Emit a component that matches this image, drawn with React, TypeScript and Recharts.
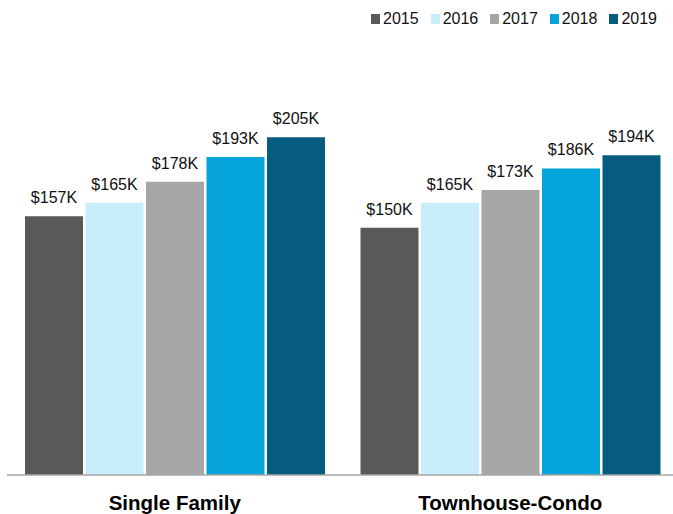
import React from 'react';
import { BarChart, Bar, XAxis, YAxis, Legend, LabelList } from 'recharts';

// Median sold price by property type (thousands of dollars)
const categories = ['Single Family', 'Townhouse-Condo'];
const years = ['2015', '2016', '2017', '2018', '2019'];
const values2015 = [157, 150];
const values2016 = [165, 165];
const values2017 = [178, 173];
const values2018 = [193, 186];
const values2019 = [205, 194];

const seriesValues = [values2015, values2016, values2017, values2018, values2019];
const colors = ['#595959', '#c8eefb', '#a6a6a6', '#05a5dc', '#065c7f'];

const data = categories.map((name, i) => {
  const row: { [key: string]: string | number } = { name };
  years.forEach((y, j) => {
    row[y] = seriesValues[j][i];
  });
  return row;
});

const FONT = '"Liberation Sans", Arial, Helvetica, sans-serif';

const CategoryTick = ({ x, y, payload }: any) => (
  <text
    x={x}
    y={y}
    dy={27}
    textAnchor="middle"
    fontFamily={FONT}
    fontWeight="bold"
    fontSize={20.5}
    fill="#000"
  >
    {payload.value}
  </text>
);

const LegendContent = () => (
  <div style={{ display: 'flex', justifyContent: 'flex-end', height: 24, alignItems: 'center', fontFamily: FONT, fontSize: 16, color: '#111' }}>
    {years.map((y, i) => (
      <div key={y} style={{ display: 'flex', alignItems: 'center', marginLeft: i === 0 ? 0 : 12 }}>
        <span style={{ display: 'inline-block', width: 9, height: 10, background: colors[i], marginRight: 3 }} />
        <span>{y}</span>
      </div>
    ))}
  </div>
);

export default function App() {
  return (
    <div style={{ position: 'absolute', left: 0, top: 0, width: 673, height: 514, overflow: 'hidden', background: '#fff' }}>
      <BarChart
        width={678}
        height={514}
        data={data}
        margin={{ top: 39, right: 0, bottom: 0, left: 7 }}
        barSize={58}
        barGap={2.5}
      >
        <Legend
          verticalAlign="top"
          align="right"
          content={<LegendContent />}
          wrapperStyle={{ top: 7, right: 21, width: 'auto' }}
        />
        <XAxis
          dataKey="name"
          axisLine={{ stroke: '#a6a6a6', strokeWidth: 1.5 }}
          tickLine={false}
          tick={<CategoryTick />}
          height={39}
          interval={0}
        />
        <YAxis hide domain={[0, 250]} />
        {years.map((y, i) => (
          <Bar key={y} dataKey={y} fill={colors[i]} isAnimationActive={false}>
            <LabelList
              dataKey={y}
              position="top"
              offset={13}
              formatter={(v: any) => `$${v}K`}
              style={{ fontFamily: FONT, fontSize: 16, fill: '#111' }}
            />
          </Bar>
        ))}
      </BarChart>
    </div>
  );
}
